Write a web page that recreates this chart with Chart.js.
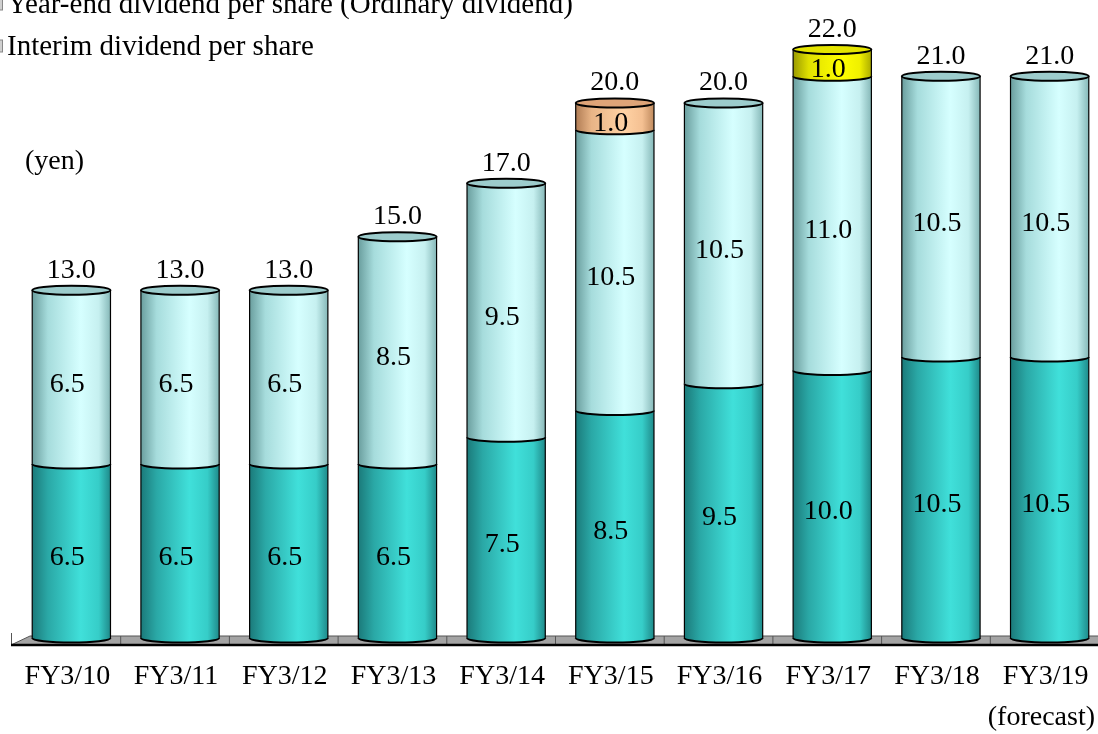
<!DOCTYPE html>
<html>
<head>
<meta charset="utf-8">
<script src="https://cdn.jsdelivr.net/npm/chart.js@4/dist/chart.umd.min.js"></script>
<style>
  html, body { margin: 0; padding: 0; background: #fff; overflow: hidden; }
  #wrap { width: 1098px; height: 734px; overflow: hidden; position: relative; }
  canvas { display: block; }
</style>
</head>
<body>
<div id="wrap"><canvas id="divChart" width="1110" height="734"></canvas></div>
<script>
// --- data ---
const categories = ['FY3/10', 'FY3/11', 'FY3/12', 'FY3/13', 'FY3/14', 'FY3/15', 'FY3/16', 'FY3/17', 'FY3/18', 'FY3/19'];
const interimDividend = [6.5, 6.5, 6.5, 6.5, 7.5, 8.5, 9.5, 10.0, 10.5, 10.5];
const yearEndDividend = [6.5, 6.5, 6.5, 8.5, 9.5, 10.5, 10.5, 11.0, 10.5, 10.5];
const commemorativeDividend = [null, null, null, null, null, 1.0, null, null, null, null];
const specialDividend = [null, null, null, null, null, null, null, 1.0, null, null];
const legendLabels = ['Year-end dividend per share (Ordinary dividend)', 'Interim dividend per share'];

const FONT = '28px "Times New Roman", "Liberation Serif", serif';
const LEGEND_FONT = '29px "Times New Roman", "Liberation Serif", serif';

// cylinder colours per dataset: side gradient stops + top face
const cylStyles = [
  { stops: ['#1b7a7a', '#2aa8a6', '#40e0da', '#36cdc8', '#1f8a8a'], top: '#35c8c4' },
  { stops: ['#6a9e9e', '#a6dcdc', '#d6ffff', '#c6f0f0', '#86b8b8'], top: '#9ccccc' },
  { stops: ['#b07c54', '#e8b486', '#ffd2a4', '#f4c092', '#bf8a5e'], top: '#dea478' },
  { stops: ['#9a9a00', '#e0e000', '#ffff00', '#f0f000', '#acac00'], top: '#e4e400' }
];

function sideGradient(ctx, l, r, stops) {
  const g = ctx.createLinearGradient(l, 0, r, 0);
  const pos = [0, 0.2, 0.62, 0.85, 1];
  stops.forEach((c, i) => g.addColorStop(pos[i], c));
  return g;
}

const floorPlugin = {
  id: 'floor',
  beforeDatasetsDraw(chart) {
    const ctx = chart.ctx;
    const xs = chart.scales.x;
    const back = 636, front = 645;
    ctx.save();
    ctx.beginPath();
    ctx.moveTo(11, front);
    ctx.lineTo(1110, front);
    ctx.lineTo(1110, back);
    ctx.lineTo(30, back);
    ctx.closePath();
    ctx.fillStyle = '#a4a4a4';
    ctx.fill();
    ctx.strokeStyle = '#555';
    ctx.lineWidth = 1;
    ctx.stroke();
    // dividers between categories
    for (let i = 0; i < categories.length - 1; i++) {
      const x = (xs.getPixelForValue(i) + xs.getPixelForValue(i + 1)) / 2 - 5;
      ctx.beginPath();
      ctx.moveTo(x, back);
      ctx.lineTo(x, front);
      ctx.stroke();
    }
    // left stub
    ctx.beginPath();
    ctx.moveTo(11.5, 633);
    ctx.lineTo(11.5, front);
    ctx.stroke();
    // front edge
    ctx.beginPath();
    ctx.moveTo(11, front);
    ctx.lineTo(1110, front);
    ctx.strokeStyle = '#000';
    ctx.lineWidth = 2.5;
    ctx.stroke();
    ctx.restore();
  }
};

const cylinderPlugin = {
  id: 'cylinders',
  afterDatasetsDraw(chart) {
    const ctx = chart.ctx;
    const metas = chart.data.datasets.map((d, i) => chart.getDatasetMeta(i));
    const ry = 4.5;
    ctx.save();
    categories.forEach((cat, j) => {
      const segs = [];
      chart.data.datasets.forEach((ds, i) => {
        const v = ds.data[j];
        if (v == null) return;
        const el = metas[i].data[j];
        segs.push({ cx: el.x, rx: el.width / 2, top: el.y, base: el.base, v, style: cylStyles[i] });
      });
      // bodies, bottom to top
      segs.forEach(s => {
        const l = s.cx - s.rx, r = s.cx + s.rx;
        ctx.beginPath();
        ctx.moveTo(l, s.top);
        ctx.lineTo(l, s.base);
        ctx.ellipse(s.cx, s.base, s.rx, ry, 0, Math.PI, 0, true);
        ctx.lineTo(r, s.top);
        ctx.closePath();
        ctx.fillStyle = sideGradient(ctx, l, r, s.style.stops);
        ctx.fill();
      });
      // outlines
      ctx.strokeStyle = '#000';
      segs.forEach(s => {
        const l = s.cx - s.rx, r = s.cx + s.rx;
        ctx.lineWidth = 1.2;
        ctx.beginPath();
        ctx.moveTo(l, s.top);
        ctx.lineTo(l, s.base);
        ctx.moveTo(r, s.top);
        ctx.lineTo(r, s.base);
        ctx.stroke();
        ctx.lineWidth = 2;
        ctx.beginPath();
        ctx.ellipse(s.cx, s.base, s.rx, ry, 0, Math.PI, 0, true);
        ctx.stroke();
      });
      // top face
      const t = segs[segs.length - 1];
      ctx.beginPath();
      ctx.ellipse(t.cx, t.top, t.rx, ry, 0, 0, Math.PI * 2);
      ctx.fillStyle = t.style.top;
      ctx.fill();
      ctx.lineWidth = 2;
      ctx.stroke();
      // labels
      ctx.fillStyle = '#000';
      ctx.font = FONT;
      ctx.textAlign = 'center';
      ctx.textBaseline = 'middle';
      segs.forEach(s => {
        ctx.fillText(s.v.toFixed(1), s.cx - 4, (s.top + s.base) / 2 + 7);
      });
      const total = segs.reduce((a, s) => a + s.v, 0);
      ctx.fillText(total.toFixed(1), t.cx, t.top - 20);
      // category label
      ctx.fillText(cat, t.cx - 4, 677);
    });
    ctx.restore();
  }
};

const textPlugin = {
  id: 'texts',
  afterDraw(chart) {
    const ctx = chart.ctx;
    ctx.save();
    ctx.font = LEGEND_FONT;
    ctx.fillStyle = '#000';
    ctx.textBaseline = 'alphabetic';
    ctx.textAlign = 'left';
    legendLabels.forEach((lab, i) => {
      const base = 13 + i * 42;
      ctx.fillStyle = '#d0d0d0';
      ctx.fillRect(-10, base - 15, 12, 12);
      ctx.strokeStyle = '#888';
      ctx.lineWidth = 1;
      ctx.strokeRect(-10, base - 15, 12.5, 12);
      ctx.fillStyle = '#000';
      ctx.fillText(lab, 7, base);
    });
    ctx.font = FONT;
    ctx.textBaseline = 'middle';
    ctx.fillText('(yen)', 25, 162);
    ctx.textAlign = 'right';
    ctx.fillText('(forecast)', 1095, 718);
    ctx.restore();
  }
};

const mkSet = (label, data) => ({
  label, data, stack: 'div',
  backgroundColor: 'rgba(0,0,0,0)', borderWidth: 0,
  barPercentage: 0.9, categoryPercentage: 0.8
});

new Chart(document.getElementById('divChart'), {
  type: 'bar',
  data: {
    labels: categories,
    datasets: [
      mkSet('Interim dividend per share', interimDividend),
      mkSet('Year-end dividend per share (Ordinary dividend)', yearEndDividend),
      mkSet('Commemorative dividend', commemorativeDividend),
      mkSet('Special dividend', specialDividend)
    ]
  },
  options: {
    responsive: false,
    animation: false,
    devicePixelRatio: 1,
    layout: { padding: { left: 17, right: 6, top: 0, bottom: 96 } },
    plugins: { legend: { display: false }, tooltip: { enabled: false } },
    scales: {
      x: { stacked: true, display: false },
      y: { stacked: true, display: false, min: 0, max: 23.85 }
    }
  },
  plugins: [floorPlugin, cylinderPlugin, textPlugin]
});
</script>
</body>
</html>
